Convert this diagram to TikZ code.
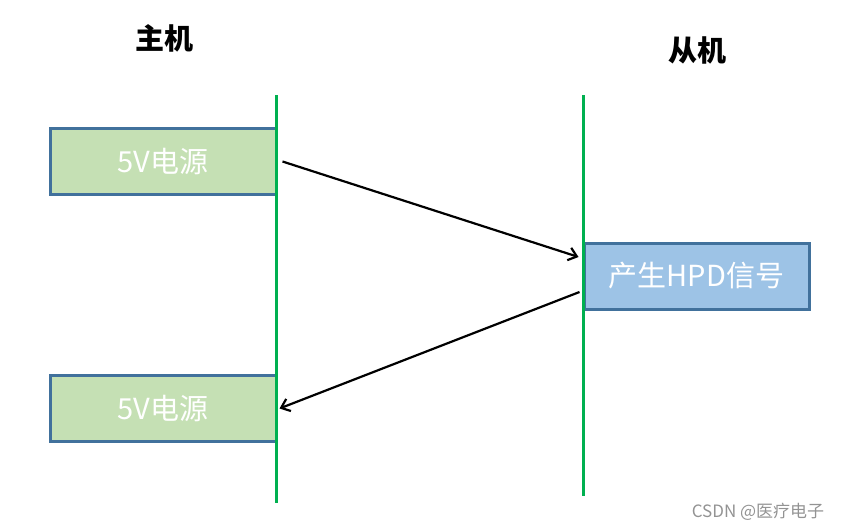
\documentclass[tikz,border=0pt]{standalone}
\usepackage{fontspec}
\setmainfont{Noto Sans CJK SC}
\usepackage{tikz}
\usetikzlibrary{arrows.meta}
\definecolor{boxgreen}{HTML}{C5E0B4}
\definecolor{boxblue}{HTML}{9DC3E6}
\definecolor{boxborder}{HTML}{41719C}
\definecolor{lifegreen}{HTML}{00B050}
\tikzstyle{hostbox} = [rectangle, 
minimum width=226pt, 
minimum height=66pt, 
text centered, 
draw=boxborder, 
line width=3pt, 
text=white, 
font=\fontsize{29}{34}\selectfont, 
fill=boxgreen]
\tikzstyle{slavebox} = [hostbox, 
minimum width=225pt, 
fill=boxblue]
\tikzstyle{title} = [font=\fontsize{29}{34}\selectfont\bfseries]
\tikzstyle{lifeline} = [lifegreen, line width=3pt]
\tikzstyle{arrow} = [line width=2.2pt,-{Straight Barb[length=8pt,width=13pt]}]

\begin{document}
\begin{tikzpicture}[x=1pt, y=-1pt]
\useasboundingbox (0,0) rectangle (843,530);
\node (host) [title] at (164,38) {主机};
\node (slave) [title] at (697,50) {从机};

\node (power1) [hostbox] at (163,161.5) {5V电源};
\node (hpd) [slavebox] at (696.5,276) {产生HPD信号};
\node (power2) [hostbox] at (163,408.5) {5V电源};

\coordinate (host top) at (276,95);
\coordinate (host bottom) at (276,503);
\coordinate (slave top) at (583,95);
\coordinate (slave bottom) at (583,496);
\draw [lifeline] (host top) -- (host bottom);
\draw [lifeline] (slave top) -- (slave bottom);

\draw [arrow] ([xshift=5pt]power1.east) -- ([xshift=-4pt,yshift=19pt]hpd.west);
\draw [arrow] ([xshift=-3pt,yshift=-16pt]hpd.west) -- ([xshift=2pt]power2.east);

\node (mark) [text=gray!85, font=\fontsize{17}{20}\selectfont] at (758,512) {CSDN @医疗电子};
\end{tikzpicture}
\end{document}
